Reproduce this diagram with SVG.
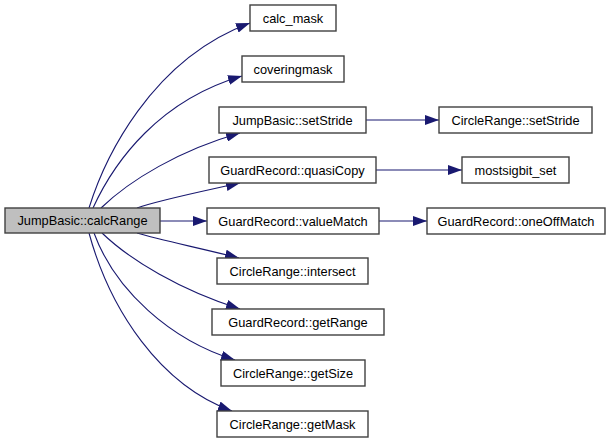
<svg xmlns="http://www.w3.org/2000/svg" width="611" height="443" viewBox="0 0 611 443">
<defs>
<marker id="arr" markerUnits="userSpaceOnUse" markerWidth="14" markerHeight="10" refX="14" refY="5" orient="auto">
<path d="M0,0 L14,5 L0,10 z" fill="#191970"/>
</marker>
</defs>
<style>
.n rect{fill:#fff;stroke:#404040;stroke-width:1.4}
.n.m rect{fill:#bfbfbf}
.n text{font-family:"Liberation Sans",Arial,sans-serif;font-size:12.8px;fill:#000;text-anchor:middle}
.e path{fill:none;stroke:#191970;stroke-width:1.1;marker-end:url(#arr)}
</style>
<rect width="611" height="443" fill="#fff"/>
<g class="e" id="edges">
<path d="M89,208 C104,160 150,60 250,23"/>
<path d="M93,208 C115,160 160,100 242,76"/>
<path d="M101,208 C130,180 180,150 240,133"/>
<path d="M137,208 C160,200 200,192 240,183"/>
<path d="M160,221 L207,221"/>
<path d="M137,233 C160,240 200,248 239,258"/>
<path d="M102,233 C130,260 180,290 240,309"/>
<path d="M94,233 C115,290 170,340 235,360"/>
<path d="M89,233 C110,310 160,385 232,411"/>
<path d="M366,120 L439,120"/>
<path d="M376,170 L462,170"/>
<path d="M379,221 L427,221"/>
</g>
<g class="n m" id="n_calcRange"><rect x="5" y="208" width="155" height="25"/><text x="82.5" y="225">JumpBasic::calcRange</text></g>
<g class="n" id="n_calc_mask"><rect x="250" y="5" width="86" height="26"/><text x="293" y="22.5">calc_mask</text></g>
<g class="n" id="n_coveringmask"><rect x="242" y="56" width="102" height="26"/><text x="293" y="73.5">coveringmask</text></g>
<g class="n" id="n_setStride"><rect x="219" y="107" width="147" height="26"/><text x="292.5" y="124.5">JumpBasic::setStride</text></g>
<g class="n" id="n_quasiCopy"><rect x="209" y="157" width="167" height="26"/><text x="292.5" y="174.5">GuardRecord::quasiCopy</text></g>
<g class="n" id="n_valueMatch"><rect x="207" y="208" width="172" height="26"/><text x="293" y="225.5">GuardRecord::valueMatch</text></g>
<g class="n" id="n_intersect"><rect x="217" y="258" width="151" height="26"/><text x="292.5" y="275.5">CircleRange::intersect</text></g>
<g class="n" id="n_getRange"><rect x="212" y="309" width="172" height="26"/><text x="298" y="326.5">GuardRecord::getRange</text></g>
<g class="n" id="n_getSize"><rect x="221" y="360" width="144" height="26"/><text x="293" y="377.5">CircleRange::getSize</text></g>
<g class="n" id="n_getMask"><rect x="217" y="411" width="151" height="26"/><text x="292.5" y="428.5">CircleRange::getMask</text></g>
<g class="n" id="n_crSetStride"><rect x="439" y="107" width="153" height="26"/><text x="515.5" y="124.5">CircleRange::setStride</text></g>
<g class="n" id="n_mostsigbit"><rect x="462" y="157" width="107" height="26"/><text x="515.5" y="174.5">mostsigbit_set</text></g>
<g class="n" id="n_oneOffMatch"><rect x="427" y="208" width="178" height="26"/><text x="516" y="225.5">GuardRecord::oneOffMatch</text></g>
</svg>
